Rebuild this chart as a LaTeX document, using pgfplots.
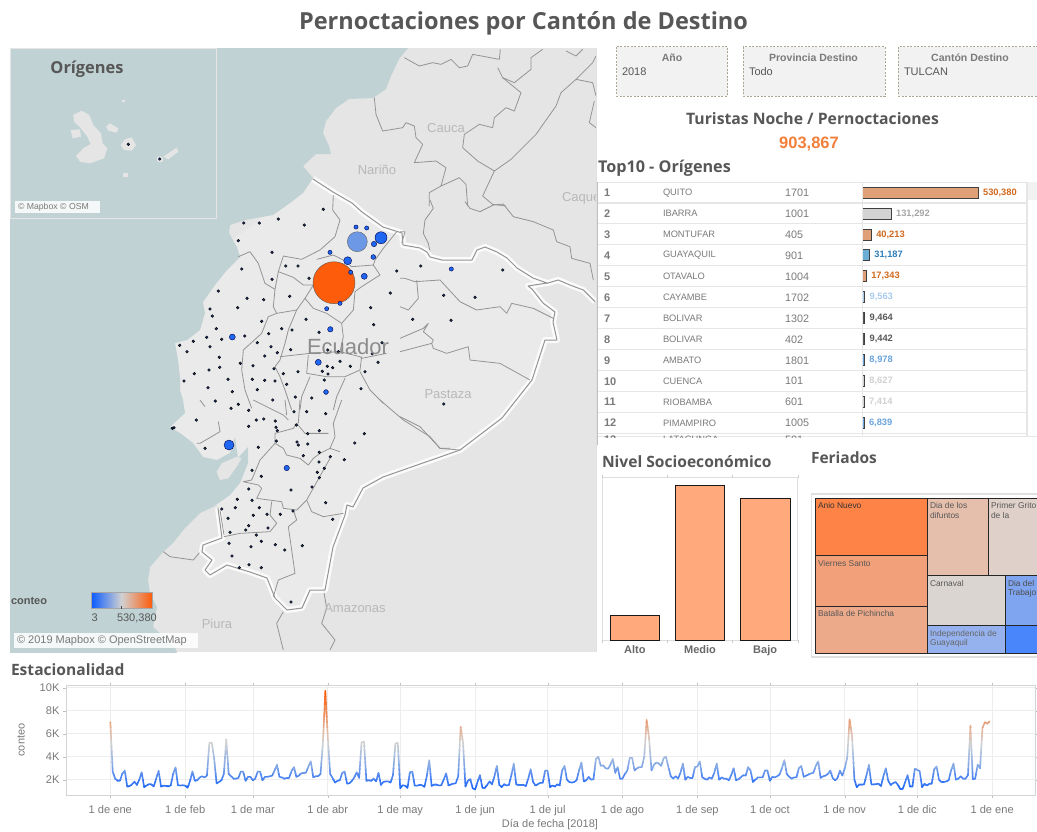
\documentclass[border=0pt]{standalone}
\usepackage{pgfplots}
\usepackage{pgfplotstable}
\usepackage{fontspec}
\pgfplotsset{compat=1.18}
\setmainfont{Liberation Sans}
\newfontfamily\tf{Open Sans}
\newcommand\fs[1]{\fontsize{#1}{#1}\selectfont}
\definecolor{sea}{HTML}{C0D2D3}
\definecolor{land}{HTML}{E5E5E5}
\definecolor{ecu}{HTML}{EAEAEA}
\definecolor{prov}{HTML}{949494}
\definecolor{navy}{HTML}{1C2F6A}
\definecolor{dotb}{HTML}{1F66F0}
\definecolor{dark}{HTML}{575757}
\definecolor{tick}{HTML}{7A7A7A}
\definecolor{rowl}{HTML}{E6E6E6}
\definecolor{oF}{HTML}{E0A077}\definecolor{oT}{HTML}{D2691E}
\definecolor{gF}{HTML}{D3D3D3}
\definecolor{bF}{HTML}{6AAED6}\definecolor{bT}{HTML}{2E7EB8}
\definecolor{lF}{HTML}{A9CBEE}
\definecolor{mF}{HTML}{6BA5DE}
\definecolor{bubO}{HTML}{FD5C0A}\definecolor{bubL}{HTML}{6D98E6}
\definecolor{barC}{HTML}{FFA97C}
\definecolor{t1}{HTML}{FE8347}\definecolor{t2}{HTML}{F2A07A}\definecolor{t3}{HTML}{EDAA8A}
\definecolor{t4}{HTML}{E5BFAC}\definecolor{t5}{HTML}{DFD1C9}\definecolor{t6}{HTML}{DAD5D1}
\definecolor{t7}{HTML}{7FA5F0}\definecolor{t8}{HTML}{95B2EE}\definecolor{t9}{HTML}{4A86FB}
\definecolor{filt}{HTML}{ACA494}\definecolor{orgT}{HTML}{F2803A}
\definecolor{gA}{HTML}{0A5AFF}\definecolor{gB}{HTML}{D1D1D1}\definecolor{gC}{HTML}{FD5C0A}
\pgfplotstableread[row sep=\\]{v\\7040\\2700\\2100\\1900\\1920\\2550\\2780\\1400\\1450\\1600\\1830\\1550\\2000\\2650\\1350\\1500\\1620\\1600\\1420\\2100\\2780\\1400\\1480\\1460\\1420\\1500\\2500\\3080\\1520\\1500\\1520\\1480\\1300\\1900\\2720\\1900\\1950\\2200\\2300\\2200\\2350\\5200\\5230\\3800\\1680\\1800\\1950\\2500\\5500\\2500\\2300\\2100\\2100\\2150\\2700\\2700\\1900\\2250\\2250\\1950\\2100\\2700\\2700\\1950\\2250\\2250\\2300\\2350\\2800\\3300\\2250\\2200\\2100\\2150\\2150\\2750\\3100\\2250\\2350\\2550\\2600\\2620\\3150\\3600\\2200\\2300\\2300\\2500\\5200\\9740\\5800\\2500\\2150\\1750\\1900\\1950\\2600\\2700\\1650\\1700\\1900\\2200\\2650\\2150\\5250\\5300\\1900\\1950\\1900\\2100\\1850\\2600\\1550\\1800\\1850\\1850\\1750\\2400\\5150\\5200\\1250\\1520\\1480\\1280\\2650\\2700\\1480\\1480\\1550\\1530\\1380\\2300\\3700\\1450\\1580\\1580\\1500\\1520\\2000\\2550\\1500\\1600\\1650\\1700\\2300\\6600\\5200\\1400\\1900\\2050\\1250\\1150\\1800\\2400\\1300\\1280\\1550\\1850\\1600\\2300\\3200\\1550\\1350\\1620\\1500\\1550\\2400\\3400\\1600\\1550\\1550\\1550\\1450\\2100\\2900\\1800\\1500\\1620\\1730\\1720\\2800\\2780\\1350\\1500\\1400\\1600\\1500\\2800\\3200\\2000\\1800\\1750\\1800\\1950\\2800\\3500\\1850\\1950\\2250\\2000\\2050\\3800\\4000\\3200\\3250\\3000\\2950\\3300\\3800\\2600\\3100\\2100\\2100\\2500\\2800\\3900\\3900\\2800\\3000\\3100\\3100\\4000\\7200\\5600\\2800\\3300\\3500\\3400\\3200\\3850\\4000\\3100\\2300\\2100\\2300\\2100\\2600\\3400\\2000\\2250\\2150\\2150\\3100\\3150\\3600\\2200\\2100\\2000\\2200\\2100\\2600\\3400\\2000\\2200\\2100\\2100\\1950\\2400\\3000\\1950\\2050\\2200\\2400\\2350\\3100\\2800\\1800\\2000\\2200\\2200\\2200\\2800\\2800\\1900\\2250\\2200\\2300\\2450\\3000\\3700\\2500\\2250\\2100\\2200\\2200\\3000\\3200\\2250\\2350\\2450\\2550\\2600\\3200\\3600\\2150\\2300\\2350\\2500\\2800\\2150\\1950\\2150\\2800\\2350\\3000\\3900\\7250\\5800\\2000\\1350\\1600\\1580\\1600\\2400\\3300\\1600\\1600\\1620\\1650\\1450\\2300\\3000\\1900\\1550\\1700\\1800\\1550\\1180\\1200\\1800\\2400\\1400\\1400\\2950\\2850\\2750\\1350\\1650\\1500\\1650\\1650\\2900\\3150\\2000\\1800\\1800\\1850\\1950\\2800\\3400\\2000\\2100\\2300\\2100\\2100\\2400\\6700\\2050\\2100\\3300\\3000\\6500\\7000\\6850\\7100\\}\tsdata
\pgfplotstableread[row sep=\\]{px py\\323.3 209.3\\243.7 223\\259.3 223\\278.3 219\\304.3 225\\238.3 240.7\\272 252.3\\241.7 269\\285.7 266\\298 266\\272 279.3\\309 278.3\\396.7 271\\420.7 266\\502.7 270\\218.3 291\\289.7 296.3\\247 298.3\\263.7 299.7\\237.7 307.7\\210 309\\212.3 316\\390.3 293\\443.7 295.3\\475 297.3\\370.7 307.7\\306 319.3\\412.7 319.3\\451 320.3\\261.7 321.3\\373.7 324.7\\281.7 328.7\\292 330\\319 332.3\\216.3 328.7\\268.7 333.7\\244.7 336\\206.7 337.3\\221.7 339.3\\193.3 341.3\\179.7 345.3\\210 346.7\\257.3 342.7\\271 346.7\\382 342.7\\187 351.7\\290.7 349.7\\277.3 352.7\\264.7 356\\219.3 357.3\\338.3 351.7\\327.7 350\\372.3 353.7\\340 361.3\\378 362.3\\253 365.7\\240.3 363.3\\350.3 366.3\\327.3 366.3\\332.7 367.7\\322.3 371.3\\328 374\\274 368.7\\219.7 367.3\\209 370\\194.3 373.7\\283.3 373.7\\298 371.7\\365 371.7\\184 381\\228 379.3\\252.3 379.3\\264.7 380.3\\275 381\\286.7 384.3\\324.3 380\\208 387.7\\257.3 389.7\\232.3 391.7\\361 388.7\\215.3 401\\295.3 397\\311.7 398\\272.7 400\\443.7 404\\231 408.3\\238.3 404.3\\248.7 410.3\\294 411.7\\306.7 411.7\\325.7 413.7\\196.3 420\\172.3 428.3\\174 427.7\\256.3 420\\263.7 419\\275.3 421\\248.7 426.3\\276 427.3\\277.3 430.7\\296.3 425\\307.7 433.7\\319.3 430.7\\364.3 433.7\\205 448.3\\258.3 447.3\\276.3 441\\297 442\\298.3 445\\307.7 444\\354.7 443\\319.3 452.3\\303.3 455.7\\330.3 456.7\\344.3 459.7\\319 462\\252 470.3\\324.3 468.3\\261.3 476.3\\317.3 472.3\\319.3 477.7\\312 487\\248.7 489\\291 490\\237.3 499.3\\252 500.3\\325.7 502.7\\221.7 509\\235.3 507.7\\259.3 507.7\\293 511\\253.3 515.3\\267 514.3\\280.3 514.3\\332.7 519.3\\228 518.3\\248.7 525.7\\245.7 530\\268 528\\230 532.3\\256.3 535\\261.3 541.3\\229 543.3\\251 546.7\\275.3 544.7\\284.7 550\\302.3 545.7\\232 556\\249 564.7\\239.3 567.7\\261.3 567.7\\291 602\\}\dotdata
\pgfplotsset{
 z6/.style={x filter/.expression={170+x/3},y filter/.expression={170+y/3}},
 z7/.style={x filter/.expression={150+x/3},y filter/.expression={400+y/3}},
 z8/.style={x filter/.expression={x/3},y filter/.expression={40+y/3}},
 z10/.style={x filter/.expression={216+x/3},y filter/.expression={46+y/3}},
 z11/.style={x filter/.expression={400+x/3},y filter/.expression={200+y/3}},
 z12/.style={x filter/.expression={100+x/3},y filter/.expression={480+y/3}},
 pl/.style={draw=prov,line width=0.8pt,no marks,line join=round},
 bub/.style={only marks,mark=*,mark size=#1,mark options={fill=dotb,draw=black!70!blue,line width=0.4pt}},
 isl/.style={draw=none,fill=land,no marks},
 tm/.style={draw=black!85,line width=1pt,fill=#1,no marks},
 tb/.style 2 args={fill=#1,draw=black!75,line width=1pt,bar width=11pt,bar shift=0pt,nodes near coords,
   nodes near coords style={font=\fs{9.3}\bfseries,anchor=west,xshift=1pt,text=#2,
   /pgf/number format/.cd,assume math mode=true,fixed,precision=0,1000 sep={,}}},
}
\begin{document}
\begin{tikzpicture}
\useasboundingbox (0pt,0pt) rectangle (1037pt,-831pt);
\fill[white] (0pt,0pt) rectangle (1037pt,-831pt);
%% MAP
\begin{axis}[at={(10pt,-48pt)},anchor=north west,scale only axis,width=586pt,height=604pt,
 xmin=10,xmax=596,ymin=48,ymax=652,y dir=reverse,hide axis]
\addplot[draw=none,fill=land] coordinates {(10,48)(596,48)(596,652)(10,652)} --cycle;
\addplot[draw=none,fill=ecu] coordinates {(313,179)(333,192)(352,203)(362,212)(383,227)(402,233)(403,245)(420,248)(427,252)(430,257)(442,260)(472,260)(477,250)(485,247)(497,252)(507,258)(517,268)(533,278)(547,283)(528,286)(532,289)(543,303)(555,312)(553,322)(557,340)(545,340)(532,380)(502,418)(460,450)(400,471)(383,477)(363,488)(353,507)(347,505)(345,515)(333,547)(325,590)(310,590)(302,608)(287,610)(275,598)(267,578)(250,572)(227,565)(210,575)(205,570)(212,560)(202,552)(203,545)(222,538)(218,508)(100,340)} --cycle;
\addplot[draw=none,fill=sea] coordinates {(10,48)(408,48)(399,59)(391,76)(386,89)(373,98)(349,99)(336,108)(326,121)(323,133)(329,146)(331,154)(316,154)(303,166)(313,178)(303,193)(290,203)(273,215)(245,220)(230,225)(229,233)(237,247)(240,257)(227,270)(215,285)(203,302)(205,313)(200,330)(187,340)(175,343)(178,360)(180,377)(180,390)(183,400)(185,413)(170,427)(180,433)(193,443)(203,457)(217,460)(230,453)(235,437)(238,458)(248,447)(248,463)(240,483)(230,495)(213,507)(200,513)(185,528)(173,543)(163,552)(150,567)(148,580)(150,593)(157,607)(155,617)(153,627)(175,647)(177,653)(10,653)} --cycle;
\addplot[z7,isl] coordinates {(200,215)(215,190)(260,170)(275,175)(260,200)(235,235)(210,240)} --cycle;
% Colombia and Peru internal lines
\addplot[z10,pl] coordinates {(565,35)(610,60)(650,50)(675,55)(705,40)(730,65)(755,60)(770,25)(850,40)(853,10)};
\addplot[z10,pl] coordinates {(845,65)(860,95)(895,110)(945,70)(945,35)(980,10)};
\addplot[z10,pl] coordinates {(860,95)(915,140)(895,195)(870,185)(835,215)(830,245)(790,235)(745,265)(740,305)(785,345)(835,375)(885,340)(960,265)(1020,180)(1035,140)(1080,100)(1130,50)(1140,30)};
\addplot[z10,pl] coordinates {(475,155)(480,205)(500,255)(560,245)(570,230)(595,240)(600,275)(620,295)(595,350)(660,345)(690,365)(675,420)(730,395)(750,415)(755,480)};
\addplot[z10,pl] coordinates {(675,420)(640,440)(640,480)};
\addplot[z10,pl] coordinates {(835,375)(800,450)(830,475)(870,480)};
\addplot[z10,pl] coordinates {(1080,100)(1130,110)(1140,150)};
\addplot[z10,pl] coordinates {(1135,165)(1120,230)(1140,245)};
\addplot[z10,pl] coordinates {(1050,15)(1080,30)(1100,10)};
\addplot[z11,pl] coordinates {(90,0)(100,25)(75,60)(70,100)(85,130)(90,155)};
\addplot[z11,pl] coordinates {(195,5)(210,25)(240,35)(280,15)(310,12)(340,50)(400,65)(460,90)(470,125)(510,140)(515,175)(570,190)(580,240)};
\addplot[z12,pl] coordinates {(190,215)(210,230)(280,240)(305,210)};
\addplot[z12,pl] coordinates {(550,395)(530,430)(550,510)};
\addplot[z12,pl] coordinates {(670,325)(680,385)(665,430)(705,480)(690,510)};
% Border glow
\addplot[draw=white,line width=6pt,opacity=.85,no marks,line join=round] coordinates {(313,179)(333,192)(352,203)(362,212)(383,227)(402,233)(403,245)(420,248)(427,252)(430,257)(442,260)(472,260)(477,250)(485,247)(497,252)(507,258)(517,268)(533,278)(547,283)(528,286)(532,289)(543,303)(555,312)(553,322)(557,340)(545,340)(532,380)(502,418)(460,450)(400,471)(383,477)(363,488)(353,507)(347,505)(345,515)(333,547)(325,590)(310,590)(302,608)(287,610)(275,598)(267,578)(250,572)(227,565)(210,575)(205,570)(212,560)(202,552)(203,545)(222,538)(218,508)};
\addplot[z11,draw=white,line width=6pt,opacity=.85,no marks] coordinates {(440,250)(475,240)(510,255)(550,270)(585,305)};
\addplot[pl,line width=1pt] coordinates {(313,179)(333,192)(352,203)(362,212)(383,227)(402,233)(403,245)(420,248)(427,252)(430,257)(442,260)(472,260)(477,250)(485,247)(497,252)(507,258)(517,268)(533,278)(547,283)(528,286)(532,289)(543,303)(555,312)(553,322)(557,340)(545,340)(532,380)(502,418)(460,450)(400,471)(383,477)(363,488)(353,507)(347,505)(345,515)(333,547)(325,590)(310,590)(302,608)(287,610)(275,598)(267,578)(250,572)(227,565)(210,575)(205,570)(212,560)(202,552)(203,545)(222,538)(218,508)};
\addplot[z11,pl,line width=1pt] coordinates {(440,250)(475,240)(510,255)(550,270)(585,305)};
% Province lines north
\addplot[z6,pl] coordinates {(205,260)(240,245)(265,280)(285,340)(315,358)(325,305)(340,258)(395,268)(450,240)(495,200)(510,150)(488,120)(490,75)};
\addplot[z6,pl] coordinates {(440,268)(490,255)(520,270)(545,290)(610,285)(615,270)(640,235)(680,185)};
\addplot[z6,pl] coordinates {(325,305)(370,322)(400,345)(430,345)(405,385)};
\addplot[z6,pl] coordinates {(610,285)(630,315)(575,350)(555,365)(550,420)(515,460)(520,500)(510,545)};
\addplot[z6,pl] coordinates {(405,385)(430,415)(470,430)(515,460)};
\addplot[z6,pl] coordinates {(315,358)(310,410)(320,430)(380,420)(405,385)};
\addplot[z6,pl] coordinates {(320,430)(295,440)(275,490)(220,540)(215,600)(225,660)(245,715)};
\addplot[z6,pl] coordinates {(380,420)(355,480)(345,520)(330,570)(315,590)(330,620)(345,660)(365,720)};
\addplot[z6,pl] coordinates {(330,560)(420,550)(510,545)(570,560)(575,565)(650,550)};
\addplot[z6,pl] coordinates {(415,555)(410,610)(470,620)(525,620)(570,600)(575,560)};
\addplot[z6,pl] coordinates {(420,620)(395,680)(390,720)};
\addplot[z6,pl] coordinates {(525,625)(500,680)(490,720)};
\addplot[z6,pl] coordinates {(570,605)(600,660)(640,700)};
\addplot[z11,pl] coordinates {(0,455)(95,430)(100,445)(140,460)(205,440)(210,480)(300,490)(390,540)};
\addplot[z11,pl] coordinates {(0,415)(70,385)(85,370)(70,395)(100,420)(95,430)};
\addplot[z11,pl] coordinates {(0,235)(15,235)(45,245)(120,240)(180,305)(230,330)(300,320)(320,340)(335,310)(400,325)(460,355)};
\addplot[z11,pl] coordinates {(50,240)(55,295)(25,330)(0,320)};
\addplot[z11,pl] coordinates {(0,95)(15,95)(5,130)};
\addplot[z11,pl] coordinates {(0,650)(60,680)(120,745)(180,750)};
% Province lines south
\addplot[z7,pl] coordinates {(150,0)(165,20)};
\addplot[z7,pl] coordinates {(310,0)(400,45)(415,60)};
\addplot[z7,pl] coordinates {(405,0)(410,45)};
\addplot[z7,pl] coordinates {(450,0)(445,70)};
\addplot[z7,pl] coordinates {(575,0)(550,70)(555,110)(540,145)(570,155)};
\addplot[z7,pl] coordinates {(205,65)(210,95)(150,130)(140,130)};
\addplot[z7,pl] coordinates {(690,0)(760,60)(840,110)(870,145)(900,145)};
\addplot[z7,pl] coordinates {(375,130)(400,145)(410,165)(450,175)(475,195)(490,175)(510,160)(540,145)};
\addplot[z7,pl] coordinates {(375,130)(330,180)(305,240)(280,245)(325,255)(335,265)(320,295)(395,305)(400,325)(440,330)(470,300)(540,175)};
\addplot[z7,pl] coordinates {(470,300)(485,335)(520,350)(580,340)};
\addplot[z7,pl] coordinates {(430,330)(440,360)(415,380)(435,520)(385,540)(370,590)};
\addplot[z7,pl] coordinates {(222,410)(270,400)(360,395)(380,370)(360,345)(365,305)};
\addplot[z7,pl] coordinates {(210,330)(222,405)};
\addplot[z7,pl] coordinates {(375,130)(375,100)(430,85)(440,70)(465,100)(535,100)};
% Bubbles
\addplot[bub=21,mark options={fill=bubO,draw=black!65}] coordinates {(334,282.7)};
\addplot[bub=10,mark options={fill=bubL,draw=black!60}] coordinates {(357.3,241.7)};
\addplot[only marks,mark=*,mark size=1.4,mark options={fill=navy,draw=none}] table[x=px,y=py] {\dotdata};
\addplot[bub=6] coordinates {(381,237.7)};
\addplot[bub=5] coordinates {(229,445)};
\addplot[bub=4] coordinates {(347.7,260.7)};
\addplot[bub=3] coordinates {(364.3,276.3)(232.3,337)(318.3,362.3)};
\addplot[bub=2.7] coordinates {(374,244)(330.3,329.3)(286.7,468)};
\addplot[bub=2.4] coordinates {(373.3,257)(326,392)};
\addplot[bub=2.1] coordinates {(350.7,272.3)(330,252.3)(356,227)(366.7,228)(340,303.3)(326.7,308.7)(451.3,269)};
\end{axis}
%% INSET
\begin{axis}[at={(10pt,-48pt)},anchor=north west,scale only axis,width=206pt,height=170pt,
 xmin=10,xmax=216,ymin=48,ymax=218,y dir=reverse,hide axis]
\addplot[draw=none,fill=sea] coordinates {(10,48)(216,48)(216,218)(10,218)} --cycle;
\addplot[z8,isl] coordinates {(220,225)(245,212)(268,225)(280,255)(303,280)(308,310)(322,325)(312,355)(270,370)(240,365)(228,348)(250,325)(272,312)(262,290)(240,262)(222,245)} --cycle;
\addplot[z8,isl] coordinates {(212,270)(240,268)(243,290)(218,295)} --cycle;
\addplot[z8,isl] coordinates {(318,260)(330,250)(355,265)(350,278)(325,272)} --cycle;
\addplot[z8,isl] coordinates {(362,315)(375,298)(395,292)(408,315)(395,332)(372,330)} --cycle;
\addplot[z8,isl] coordinates {(490,350)(530,323)(535,335)(505,358)} --cycle;
\addplot[z8,isl] coordinates {(472,352)(480,348)(488,352)(490,358)(487,365)(480,367)(473,364)(470,358)} --cycle;
\addplot[z8,isl] coordinates {(368,400)(383,400)(383,412)(368,412)} --cycle;
\addplot[z8,isl] coordinates {(365,179)(376,179)(376,187)(365,187)} --cycle;
\addplot[only marks,mark=*,mark size=1.4,mark options={fill=navy,draw=none}] coordinates {(128.3,144.3)(159.7,159)};
\end{axis}
%% TABLE separators
\begin{scope}[x=1pt,y=-1pt]
\foreach \yy in {182.3,203,223.7,244.7,265.7,286.7,307.7,328.7,349.7,370.7,391.7,412.7,433.7} {\draw[rowl,line width=1.5pt] (598,\yy)--(1026,\yy);}
\draw[rowl,line width=1pt] (598,436.7)--(1037,436.7);
\draw[rowl,line width=1.5pt] (1027,182)--(1027,436.7);
\fill[black!5] (1028,182) rectangle (1037,200);
\draw[black!25,line width=1pt] (597.5,445)--(597.5,182);
% Filter boxes
\foreach \xa/\xb in {616.7/727.7,743.3/885,898.3/1045}{
 \path[fill=black!5,draw=filt,dash pattern=on 2pt off 1.5pt,line width=.8pt] (\xa,46.7) rectangle (\xb,96);}
% Treemap frame
\draw[black!12,line width=1.5pt,fill=white] (811.5,494) rectangle (1045,657);
\end{scope}
%% TABLE BARS
\begin{axis}[at={(862.7pt,-182pt)},anchor=north west,scale only axis,width=164.3pt,height=254pt,
 xmin=0,xmax=753800,ymin=0.488,ymax=12.64,y dir=reverse,hide axis,xbar,clip=false]
\addplot[tb={oF}{oT}] coordinates {(530380,1)};
\addplot[tb={gF}{black!35}] coordinates {(131292,2)};
\addplot[tb={oF}{oT}] coordinates {(40213,3)};
\addplot[tb={bF}{bT}] coordinates {(31187,4)};
\addplot[tb={oF}{oT}] coordinates {(17343,5)};
\addplot[tb={lF}{lF}] coordinates {(9563,6)};
\addplot[tb={black!65}{black!65}] coordinates {(9464,7)};
\addplot[tb={black!65}{black!65}] coordinates {(9442,8)};
\addplot[tb={mF}{mF}] coordinates {(8978,9)};
\addplot[tb={black!18}{black!18}] coordinates {(8627,10)};
\addplot[tb={black!18}{black!18}] coordinates {(7414,11)};
\addplot[tb={mF}{mF}] coordinates {(6839,12)};
\end{axis}
%% NIVEL SOCIOECONOMICO
\begin{axis}[at={(602.3pt,-640pt)},anchor=south west,scale only axis,width=195.4pt,height=162.3pt,
 xmin=-0.5,xmax=2.5,ymin=0,ymax=162.3,ytick=\empty,ybar,bar width=49.7pt,bar shift=0pt,
 xtick={0,1,2},xticklabels={Alto,Medio,Bajo},major tick length=0pt,
 extra x ticks={-0.5,0.5,1.5,2.5},extra x tick labels={},
 extra x tick style={major tick length=3pt,tick style={black!20},tick align=outside},
 axis line style={black!13,line width=1pt},
 xticklabel style={font=\fs{11}\bfseries,text=dark!90,yshift=-2pt}]
\addplot[fill=barC,draw=black!90,line width=.9pt] coordinates {(0,24.7)(1,154.7)(2,141.3)};
\end{axis}
%% TREEMAP
\begin{axis}[at={(815.3pt,-498.3pt)},anchor=north west,scale only axis,width=224.7pt,height=154.7pt,
 xmin=815.3,xmax=1040,ymin=498.3,ymax=653,y dir=reverse,hide axis,clip=false]
\addplot[tm=t1] coordinates {(815.3,498.3)(927.7,498.3)(927.7,555.3)(815.3,555.3)} --cycle;
\addplot[tm=t2] coordinates {(815.3,555.3)(927.7,555.3)(927.7,606)(815.3,606)} --cycle;
\addplot[tm=t3] coordinates {(815.3,606)(927.7,606)(927.7,653)(815.3,653)} --cycle;
\addplot[tm=t4] coordinates {(927.7,498.3)(988.3,498.3)(988.3,575.3)(927.7,575.3)} --cycle;
\addplot[tm=t5] coordinates {(988.3,498.3)(1045,498.3)(1045,575.3)(988.3,575.3)} --cycle;
\addplot[tm=t6] coordinates {(927.7,575.3)(1005.3,575.3)(1005.3,625.7)(927.7,625.7)} --cycle;
\addplot[tm=t7] coordinates {(1005.3,575.3)(1045,575.3)(1045,625.7)(1005.3,625.7)} --cycle;
\addplot[tm=t8] coordinates {(927.7,625.7)(1005.3,625.7)(1005.3,653)(927.7,653)} --cycle;
\addplot[tm=t9] coordinates {(1005.3,625.7)(1045,625.7)(1045,653)(1005.3,653)} --cycle;
\end{axis}
%% LINE CHART base
\begin{axis}[at={(66pt,-685.5pt)},anchor=north west,scale only axis,width=969.7pt,height=109.8pt,
 xmin=-18.34,xmax=383.03,ymin=643,ymax=10191,scaled y ticks=false,
 xtick={0,31,59,90,120,151,181,212,243,273,304,334,365},
 xticklabels={1 de ene,1 de feb,1 de mar,1 de abr,1 de may,1 de jun,1 de jul,1 de ago,1 de sep,1 de oct,1 de nov,1 de dic,1 de ene},
 ytick={2000,4000,6000,8000,10000},yticklabels={2K,4K,6K,8K,\raisebox{-3pt}{10K}},
 grid=major,grid style={black!7,line width=.7pt},
 axis line style={black!17,line width=.8pt},
 tick style={black!25},major tick length=3pt,tick align=outside,
 xticklabel style={font=\fs{11.1},text=tick,yshift=-4pt},
 yticklabel style={font=\fs{11.1},text=tick,xshift=0pt}]
\end{axis}
\foreach \ya/\yb/\cc in {643/1500/2268F8,1500/2000/3577F4,2000/2500/4F86F0,2500/3000/6896EB,3000/3500/83A8E6,3500/4000/9AB5E2,4000/4500/ADC0DE,4500/5000/C0CAD8,5000/5500/D0D0D0,5500/6000/DCC4B8,6000/6500/E2B8A2,6500/7000/E6A98B,7000/7500/E99E78,7500/8500/EE8A55,8500/9200/F57434,9200/10191/FB5C0E}{
 \definecolor{bandc}{HTML}{\cc}
 \pgfmathsetmacro\ptop{779.7-(\yb-2000)*0.0115}
 \pgfmathsetmacro\phei{(\yb-\ya)*0.0115}
 \begin{axis}[at={(66pt,-\ptop pt)},anchor=north west,scale only axis,width=969.7pt,height=\phei pt,
  xmin=-18.34,xmax=383.03,ymin=\ya,ymax=\yb,hide axis]
 \addplot[draw=bandc,line width=1.6pt,no marks,line join=round] table[x expr=\coordindex,y=v] {\tsdata};
 \end{axis}
}
%% TEXT
\begin{scope}[x=1pt,y=-1pt,every node/.style={inner sep=0pt,outer sep=0pt}]
\draw[rowl,line width=1pt] (862.7,182)--(862.7,436.7);
\node[text=dark] at (523.5,23) {\tf\bfseries\fs{23.5}Pernoctaciones por Cantón de Destino};
\node[text=dark,anchor=base west] at (11,675) {\tf\bfseries\fs{15.6}Estacionalidad};
\node[text=dark,anchor=base west] at (598,172.5) {\tf\bfseries\fs{16.2}Top10 - Orígenes};
\node[text=dark,anchor=base west] at (602,467.5) {\tf\bfseries\fs{15.6}Nivel Socioeconómico};
\node[text=dark,anchor=base west] at (811,463.5) {\tf\bfseries\fs{15.5}Feriados};
\node[text=dark] at (812.5,119) {\tf\bfseries\fs{15.75}Turistas Noche / Pernoctaciones};
\node[text=orgT] at (809,144) {\bfseries\fs{16.5}903,867};
% filters
\node[text=tick] at (672,58) {\bfseries\fs{10.5}Año};
\node[text=tick] at (813.5,58) {\bfseries\fs{10.5}Provincia Destino};
\node[text=tick] at (970,58) {\bfseries\fs{10.5}Cantón Destino};
\node[text=dark,anchor=base west] at (622,75) {\fs{11}2018};
\node[text=dark,anchor=base west] at (749,75) {\fs{11}Todo};
\node[text=dark,anchor=base west] at (904,75) {\fs{11}TULCAN};
% table
\foreach \rk/\nm/\cd [count=\ii from 0] in {1/QUITO/1701,2/IBARRA/1001,3/MONTUFAR/405,4/GUAYAQUIL/901,5/OTAVALO/1004,6/CAYAMBE/1702,7/BOLIVAR/1302,8/BOLIVAR/402,9/AMBATO/1801,10/CUENCA/101,11/RIOBAMBA/601,12/PIMAMPIRO/1005}{
 \pgfmathsetmacro\yy{192.7+\ii*20.95}
 \node[anchor=west,text=tick] at (604,\yy) {\bfseries\fs{11}\rk};
 \node[anchor=west,text=tick] at (663,\yy) {\fs{9.3}\nm};
 \node[anchor=west,text=tick] at (785,\yy) {\fs{10.8}\cd};
}
\begin{scope}
\clip (598,434.5) rectangle (1026,437);
\node[anchor=west,text=tick] at (663,439.5) {\fs{9.3}LATACUNGA};
\node[anchor=west,text=tick] at (785,439.5) {\fs{10.8}501};
\node[anchor=west,text=tick] at (604,439.5) {\bfseries\fs{11}13};
\end{scope}
% treemap text
\begin{scope}[every node/.append style={anchor=base west,font=\fs{8.4}}]
\node[text=black!80] at (818,508) {Anio Nuevo};
\node[text=dark] at (818,566) {Viernes Santo};
\node[text=dark] at (818,616) {Batalla de Pichincha};
\node[text=dark] at (930,508) {Dia de los};
\node[text=dark] at (930,518) {difuntos};
\node[text=dark] at (991,508) {Primer Grito};
\node[text=dark] at (991,518) {de la};
\node[text=dark] at (930,586) {Carnaval};
\node[text=black!70] at (1008,586) {Dia del};
\node[text=black!70] at (1008,595) {Trabajo};
\node[text=black!60] at (930,636) {Independencia de};
\node[text=black!60] at (930,645) {Guayaquil};
\end{scope}
% line chart labels
\node[text=tick,rotate=90] at (21,740) {\fs{11}conteo};
\node[text=tick] at (550,825) {\fs{11}Día de fecha [2018]};
% map labels
\node[text=black!28] at (446,128) {\fs{13}Cauca};
\node[text=black!28] at (377,170) {\fs{13}Nariño};
\begin{scope}\clip (500,180) rectangle (595.5,210);
\node[text=black!28,anchor=west] at (562,198) {\fs{13}Caqueta};
\end{scope}
\node[text=black!45] at (348,347) {\fs{22}Ecuador};
\node[text=black!28] at (448,394) {\fs{13}Pastaza};
\node[text=black!28] at (355,608) {\fs{13}Amazonas};
\node[text=black!28] at (217,624) {\fs{13}Piura};
\draw[black!12,line width=.8pt] (596,48)--(596,652);
\draw[black!10,line width=.6pt] (10,48) rectangle (216,218);
\node[text=dark] at (87,69) {\tf\bfseries\fs{16.4}Orígenes};
\fill[white,opacity=.85] (15,201) rectangle (100,213);
\node[text=tick,anchor=west] at (18,207.3) {\fs{8.7}© Mapbox © OSM};
\fill[white,opacity=.85] (14,633) rectangle (198,648);
\node[text=tick,anchor=west] at (17,640.5) {\fs{11}© 2019 Mapbox © OpenStreetMap};
\node[text=dark,anchor=west] at (11,600.5) {\bfseries\fs{11}conteo};
\shade[left color=gA,right color=gC,middle color=gB] (91,592) rectangle (152,608);
\draw[black!35,line width=.8pt] (91,592) rectangle (152,608);
\draw[black!70,line width=1pt] (121,606)--(121,609);
\node[text=dark,anchor=base west] at (91.5,621.5) {\fs{11}3};
\begin{scope}\clip (110,610) rectangle (157,626);
\node[text=dark,anchor=base west] at (117,621.5) {\fs{11}530,380};
\end{scope}
\end{scope}
\end{tikzpicture}
\end{document}
